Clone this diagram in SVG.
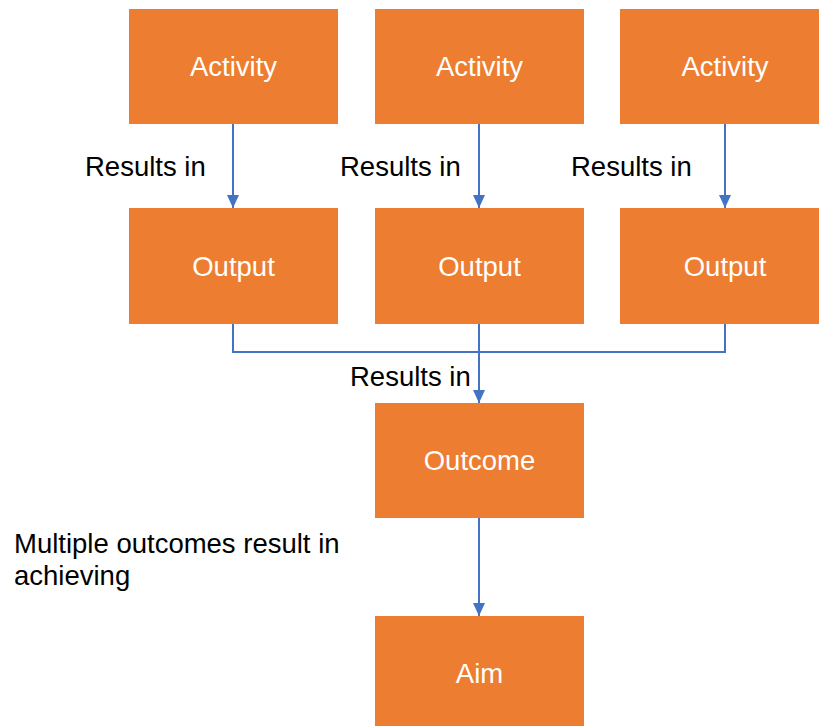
<svg xmlns="http://www.w3.org/2000/svg" width="819" height="726" viewBox="0 0 819 726">
<style>
.box{fill:#ED7D31}
.bt{fill:#ffffff;font-family:"Liberation Sans",Arial,sans-serif;font-size:27.5px;text-anchor:middle}
.lbl{fill:#000000;font-family:"Liberation Sans",Arial,sans-serif;font-size:27.5px}
.ln{fill:none;stroke:#4472C4;stroke-width:2}
</style>
<defs>
<marker id="ah" viewBox="0 0 13 12" refX="13" refY="6" markerWidth="13" markerHeight="12" markerUnits="userSpaceOnUse" orient="auto">
<path d="M0,0 L13,6 L0,12 Z" fill="#4472C4"/>
</marker>
</defs>
<rect width="819" height="726" fill="#ffffff"/>
<g id="activity1"><rect class="box" x="129" y="9" width="209" height="115"/><text class="bt" x="233.5" y="76">Activity</text></g>
<g id="activity2"><rect class="box" x="375" y="9" width="209" height="115"/><text class="bt" x="479.5" y="76">Activity</text></g>
<g id="activity3"><rect class="box" x="620" y="9" width="209" height="115"/><text class="bt" x="725" y="76">Activity</text></g>
<g id="output1"><rect class="box" x="129" y="208" width="209" height="116"/><text class="bt" x="233.5" y="276">Output</text></g>
<g id="output2"><rect class="box" x="375" y="208" width="209" height="116"/><text class="bt" x="479.5" y="276">Output</text></g>
<g id="output3"><rect class="box" x="620" y="208" width="209" height="116"/><text class="bt" x="725" y="276">Output</text></g>
<g id="outcome"><rect class="box" x="375" y="403" width="209" height="115"/><text class="bt" x="479.5" y="470">Outcome</text></g>
<g id="aim"><rect class="box" x="375" y="616" width="209" height="116"/><text class="bt" x="479.5" y="683">Aim</text></g>
<g id="connectors">
<path class="ln" d="M233,124 V208" marker-end="url(#ah)"/>
<path class="ln" d="M479,124 V208" marker-end="url(#ah)"/>
<path class="ln" d="M725,124 V208" marker-end="url(#ah)"/>
<path class="ln" d="M233,324 V352 H725 V324"/>
<path class="ln" d="M479,324 V403" marker-end="url(#ah)"/>
<path class="ln" d="M479,518 V616" marker-end="url(#ah)"/>
</g>
<g id="labels">
<text class="lbl" x="85" y="176">Results in</text>
<text class="lbl" x="340" y="176">Results in</text>
<text class="lbl" x="571" y="176">Results in</text>
<text class="lbl" x="350" y="386">Results in</text>
<text class="lbl" x="14" y="553">Multiple outcomes result in</text>
<text class="lbl" x="14" y="585">achieving</text>
</g>
</svg>
